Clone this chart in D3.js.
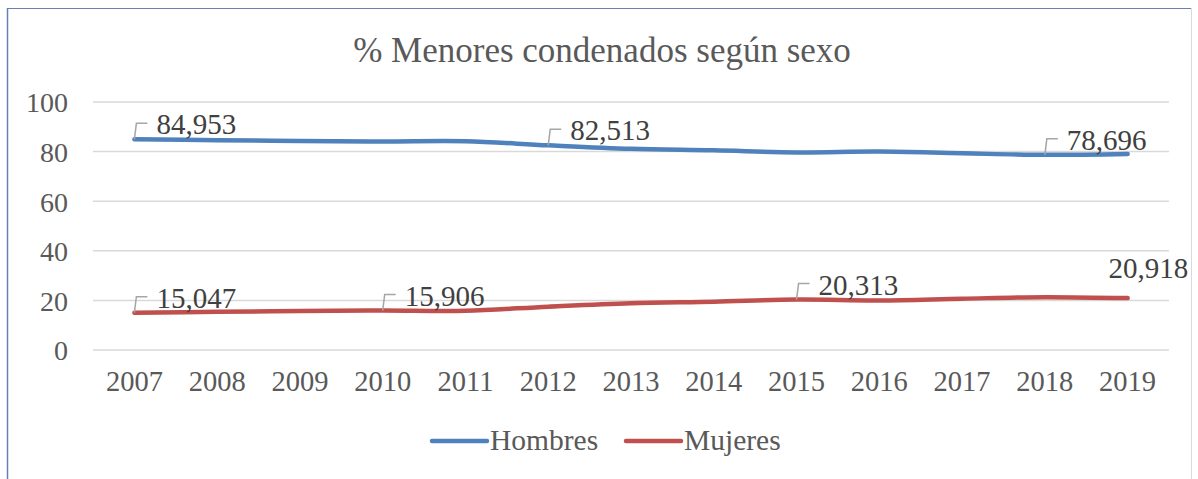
<!DOCTYPE html>
<html><head><meta charset="utf-8">
<script src="https://cdn.jsdelivr.net/npm/d3@7"></script>
<style>html,body{margin:0;padding:0;background:#fff;}svg{display:block;}</style>
</head><body>
<svg id="chart" width="1198" height="479"></svg>
<script>
const title = "% Menores condenados según sexo";
const years = ["2007","2008","2009","2010","2011","2012","2013","2014","2015","2016","2017","2018","2019"];
const hombres = [84.953, 84.6, 84.3, 84.094, 84.2, 82.513, 81.1, 80.5, 79.687, 80.0, 79.3, 78.696, 79.082];
const mujeres = [15.047, 15.4, 15.7, 15.906, 15.8, 17.487, 18.9, 19.5, 20.313, 20.0, 20.7, 21.304, 20.918];
const yTicks = [0, 20, 40, 60, 80, 100];
const seriesNames = ["Hombres", "Mujeres"];
const seriesColors = ["#4f81bd", "#c0504d"];
// labelled points: [series index, year index, label text]
const labels = [
  [0, 0, "84,953"], [0, 5, "82,513"], [0, 11, "78,696"],
  [1, 0, "15,047"], [1, 3, "15,906"], [1, 8, "20,313"], [1, 12, "20,918"]
];

const svg = d3.select("#chart");
const font = "'Liberation Serif','Times New Roman',serif";

// frame
svg.append("line").attr("x1",7.5).attr("x2",7.5).attr("y1",8).attr("y2",479).attr("stroke","#6a80b3").attr("stroke-width",1.5);
svg.append("line").attr("x1",7).attr("x2",1191).attr("y1",8.5).attr("y2",8.5).attr("stroke","#6a80b3").attr("stroke-width",1.2);
svg.append("line").attr("x1",1191.5).attr("x2",1191.5).attr("y1",8).attr("y2",479).attr("stroke","#d9d9d9").attr("stroke-width",1);

const x = d3.scaleBand().domain(years).range([93, 1169]);
const y = d3.scaleLinear().domain([0, 100]).range([350, 102]);

// title
svg.append("text").attr("x", 602).attr("y", 62).attr("text-anchor","middle")
  .attr("font-family", font).attr("font-size", 35).attr("fill","#595959").text(title);

// gridlines
svg.append("g").selectAll("line").data(yTicks).join("line")
  .attr("x1", 93).attr("x2", 1169)
  .attr("y1", d => y(d)).attr("y2", d => y(d))
  .attr("stroke", "#d9d9d9").attr("stroke-width", 1.5);

// y axis
const yAxis = svg.append("g").attr("transform","translate(68,0)")
  .call(d3.axisLeft(y).tickValues(yTicks).tickSize(0).tickPadding(0));
yAxis.select(".domain").remove();
yAxis.selectAll("text").attr("font-family", font).attr("font-size", 28).attr("fill","#595959").attr("dy","0.35em");

// x axis
const xAxis = svg.append("g").attr("transform","translate(0,366)")
  .call(d3.axisBottom(x).tickSize(0).tickPadding(0));
xAxis.select(".domain").remove();
xAxis.selectAll("text").attr("font-family", font).attr("font-size", 28.5).attr("fill","#595959").attr("dy","0.88em");

const cx = yr => x(yr) + x.bandwidth()/2;
const line = d3.line().x((d,i) => cx(years[i])).y(d => y(d)).curve(d3.curveCatmullRom.alpha(0.5));

[hombres, mujeres].forEach((s, k) => {
  svg.append("path").datum(s).attr("d", line).attr("fill","none")
    .attr("stroke", seriesColors[k]).attr("stroke-width", 4.5).attr("stroke-linecap","round").attr("stroke-linejoin","round");
});

// data labels
const data = [hombres, mujeres];
labels.forEach(([si, yi, txt]) => {
  const px = cx(years[yi]), py = y(data[si][yi]);
  if (si === 1 && yi === 12) {
    svg.append("text").attr("x", px - 19).attr("y", py - 20)
      .attr("font-family", font).attr("font-size", 29).attr("fill","#404040").text(txt);
    return;
  }
  const top = py - 16;
  svg.append("path").attr("d", `M${px},${py} L${px+2},${top} L${px+13},${top}`)
    .attr("fill","none").attr("stroke","#a6a6a6").attr("stroke-width",1.5);
  svg.append("text").attr("x", px + 22).attr("y", top + 11)
    .attr("font-family", font).attr("font-size", 29).attr("fill","#404040").text(txt);
});

// legend
const legX = [432, 626];
seriesNames.forEach((n, k) => {
  svg.append("line").attr("x1", legX[k]).attr("x2", legX[k] + 55).attr("y1", 441).attr("y2", 441)
    .attr("stroke", seriesColors[k]).attr("stroke-width", 4.5).attr("stroke-linecap","round");
  svg.append("text").attr("x", legX[k] + 58).attr("y", 450)
    .attr("font-family", font).attr("font-size", 29.5).attr("fill","#595959").text(n);
});
</script>
</body></html>
